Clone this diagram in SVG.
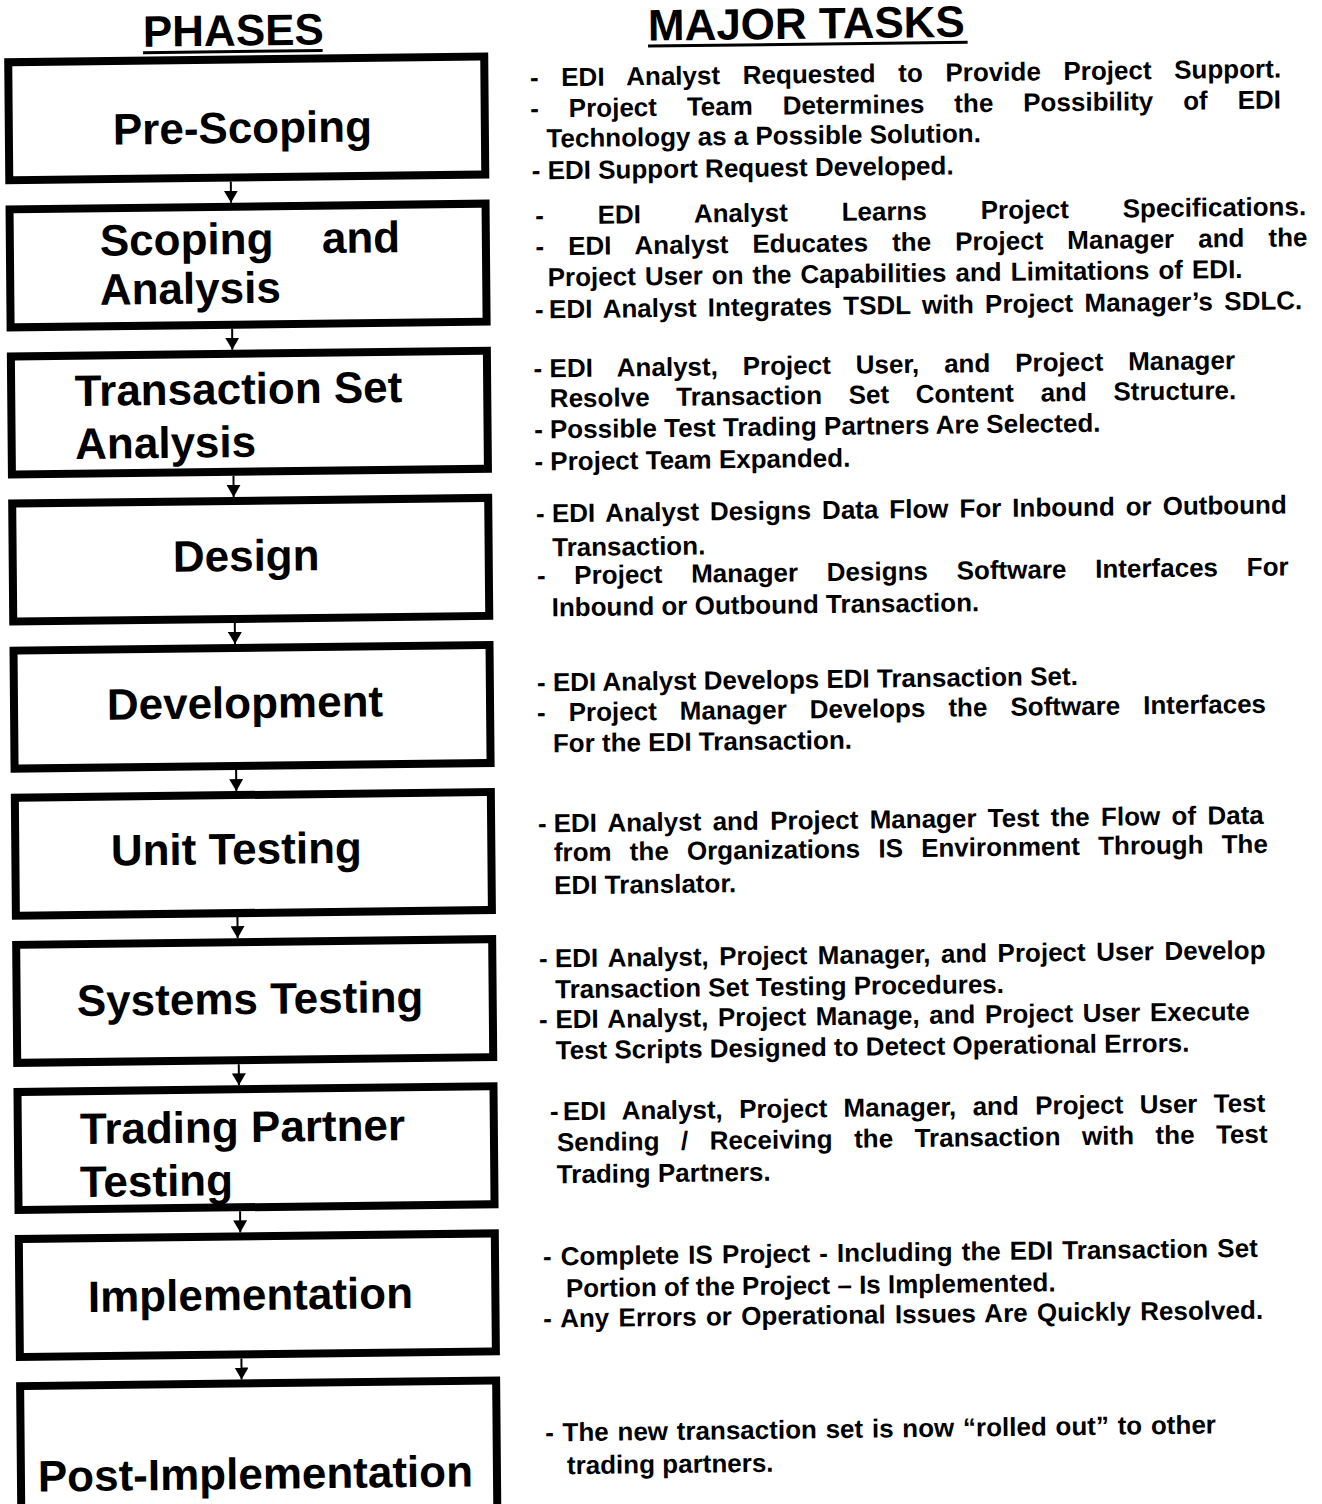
<svg xmlns="http://www.w3.org/2000/svg" width="1322" height="1504" viewBox="0 0 1322 1504">
  <style>
    .box { fill: #fff; stroke: #000; stroke-width: 8; }
    .phase { font-family: "Liberation Sans", Arial, sans-serif; font-weight: bold; font-size: 44px; fill: #000; }
    .head { font-family: "Liberation Sans", Arial, sans-serif; font-weight: bold; font-size: 44px; fill: #000; }
    .rule { stroke: #000; stroke-width: 3; }
    .task { font-family: "Liberation Sans", Arial, sans-serif; font-weight: bold; font-size: 26px; fill: #000; }
    .conn { stroke: #000; stroke-width: 2; fill: none; marker-end: url(#arrow); }
  </style>
  <defs>
    <marker id="arrow" markerUnits="userSpaceOnUse" markerWidth="12" markerHeight="14" viewBox="0 0 12 14" refX="12" refY="7" orient="auto">
      <path d="M0,0 L12,7 L0,14 z" fill="#000"/>
    </marker>
  </defs>
  <rect width="1322" height="1504" fill="#fff"/>

  <!-- whole sheet sits slightly skewed on the page -->
  <g transform="matrix(1 -0.012 0.009 1 -6.77 7.93)">

    <g id="headings">
      <text class="head" x="149.4" y="40.5">PHASES</text>
      <line class="rule" x1="149.4" y1="46.5" x2="329" y2="46.5"/>
      <text class="head" x="654.4" y="40.5">MAJOR TASKS</text>
      <line class="rule" x1="654.4" y1="46" x2="974" y2="46"/>
    </g>

    <g id="connectors">
      <line class="conn" x1="236" y1="176.5" x2="236" y2="197.6"/>
      <line class="conn" x1="236" y1="323.6" x2="236" y2="344.7"/>
      <line class="conn" x1="236" y1="470.7" x2="236" y2="491.8"/>
      <line class="conn" x1="236" y1="617.8" x2="236" y2="638.9"/>
      <line class="conn" x1="236" y1="764.9" x2="236" y2="786.0"/>
      <line class="conn" x1="236" y1="912.0" x2="236" y2="933.1"/>
      <line class="conn" x1="236" y1="1059.1" x2="236" y2="1080.2"/>
      <line class="conn" x1="236" y1="1206.2" x2="236" y2="1227.3"/>
      <line class="conn" x1="236" y1="1353.3" x2="236" y2="1374.4"/>
    </g>

    <g id="phase-pre-scoping">
      <rect class="box" x="14.5" y="54.5" width="476" height="118"/>
      <text class="phase" x="118.5" y="138">Pre-Scoping</text>
    </g>
    <g id="phase-scoping-analysis">
      <rect class="box" x="14.5" y="201.6" width="476" height="118"/>
      <text class="phase" y="249"><tspan x="104.5">Scoping</tspan><tspan x="326.5">and</tspan></text>
      <text class="phase" x="104" y="298">Analysis</text>
    </g>
    <g id="phase-transaction-set-analysis">
      <rect class="box" x="14.5" y="348.7" width="476" height="118"/>
      <text class="phase" x="78" y="399">Transaction Set</text>
      <text class="phase" x="78" y="452">Analysis</text>
    </g>
    <g id="phase-design">
      <rect class="box" x="14.5" y="495.8" width="476" height="118"/>
      <text class="phase" x="174.6" y="566">Design</text>
    </g>
    <g id="phase-development">
      <rect class="box" x="14.5" y="642.9" width="476" height="118"/>
      <text class="phase" x="107.3" y="713">Development</text>
    </g>
    <g id="phase-unit-testing">
      <rect class="box" x="14.5" y="790" width="476" height="118"/>
      <text class="phase" x="110" y="859">Unit Testing</text>
    </g>
    <g id="phase-systems-testing">
      <rect class="box" x="14.5" y="937.1" width="476" height="118"/>
      <text class="phase" x="74.7" y="1009">Systems Testing</text>
    </g>
    <g id="phase-trading-partner-testing">
      <rect class="box" x="14.5" y="1084.2" width="476" height="118"/>
      <text class="phase" x="76.5" y="1137">Trading Partner</text>
      <text class="phase" x="76" y="1190">Testing</text>
    </g>
    <g id="phase-implementation">
      <rect class="box" x="14.5" y="1231.3" width="476" height="118"/>
      <text class="phase" x="83" y="1305">Implementation</text>
    </g>
    <g id="phase-post-implementation">
      <rect class="box" x="14.5" y="1378.4" width="476" height="150"/>
      <text class="phase" x="31.4" y="1484">Post-Implementation</text>
    </g>

    <g id="tasks-pre-scoping" class="task">
      <text x="536" y="85" word-spacing="15.4">- EDI Analyst Requested to Provide Project Support.</text>
      <text x="536" y="116" word-spacing="22.7">- Project Team Determines the Possibility of EDI</text>
      <text x="552" y="146">Technology as a Possible Solution.</text>
      <text x="537" y="178">- EDI Support Request Developed.</text>
    </g>
    <g id="tasks-scoping-analysis" class="task">
      <text x="540" y="223" word-spacing="46.6">- EDI Analyst Learns Project Specifications.</text>
      <text x="540" y="254" word-spacing="16.8">- EDI Analyst Educates the Project Manager and the</text>
      <text x="552" y="285" word-spacing="1.8">Project User on the Capabilities and Limitations of EDI.</text>
      <text y="317"><tspan x="539">-</tspan><tspan x="553" word-spacing="4">EDI Analyst Integrates TSDL with Project Manager’s SDLC.</tspan></text>
    </g>
    <g id="tasks-transaction-set-analysis" class="task">
      <text y="376"><tspan x="537">-</tspan><tspan x="553" word-spacing="17.6">EDI Analyst, Project User, and Project Manager</tspan></text>
      <text x="553" y="406" word-spacing="19.4">Resolve Transaction Set Content and Structure.</text>
      <text x="537" y="437">- Possible Test Trading Partners Are Selected.</text>
      <text x="537" y="469">- Project Team Expanded.</text>
    </g>
    <g id="tasks-design" class="task">
      <text y="521"><tspan x="538">-</tspan><tspan x="554" word-spacing="3.7">EDI Analyst Designs Data Flow For Inbound or Outbound</tspan></text>
      <text x="554" y="555">Transaction.</text>
      <text x="538.5" y="583" word-spacing="21.5">- Project Manager Designs Software Interfaces For</text>
      <text x="553" y="615">Inbound or Outbound Transaction.</text>
    </g>
    <g id="tasks-development" class="task">
      <text x="537.6" y="690">- EDI Analyst Develops EDI Transaction Set.</text>
      <text x="537.3" y="720" word-spacing="15.8">- Project Manager Develops the Software Interfaces</text>
      <text x="553" y="751">For the EDI Transaction.</text>
    </g>
    <g id="tasks-unit-testing" class="task">
      <text y="831"><tspan x="537.3">-</tspan><tspan x="553" word-spacing="4.1">EDI Analyst and Project Manager Test the Flow of Data</tspan></text>
      <text x="553" y="860" word-spacing="10.9">from the Organizations IS Environment Through The</text>
      <text x="553" y="893">EDI Translator.</text>
    </g>
    <g id="tasks-systems-testing" class="task">
      <text y="966"><tspan x="537">-</tspan><tspan x="553" word-spacing="3.2">EDI Analyst, Project Manager, and Project User Develop</tspan></text>
      <text x="553" y="997">Transaction Set Testing Procedures.</text>
      <text y="1027"><tspan x="536.5">-</tspan><tspan x="553" word-spacing="2.3">EDI Analyst, Project Manage, and Project User Execute</tspan></text>
      <text x="553" y="1058">Test Scripts Designed to Detect Operational Errors.</text>
    </g>
    <g id="tasks-trading-partner-testing" class="task">
      <text y="1119"><tspan x="546.7">-</tspan><tspan x="559.7" word-spacing="9.1">EDI Analyst, Project Manager, and Project User Test</tspan></text>
      <text x="553.4" y="1150" word-spacing="14.3">Sending / Receiving the Transaction with the Test</text>
      <text x="553" y="1182">Trading Partners.</text>
    </g>
    <g id="tasks-implementation" class="task">
      <text x="538.4" y="1264" word-spacing="1.9">- Complete IS Project - Including the EDI Transaction Set</text>
      <text x="561" y="1296">Portion of the Project – Is Implemented.</text>
      <text x="538" y="1326" word-spacing="2.1">- Any Errors or Operational Issues Are Quickly Resolved.</text>
    </g>
    <g id="tasks-post-implementation" class="task">
      <text x="539" y="1440" word-spacing="1.5">- The new transaction set is now “rolled out” to other</text>
      <text x="560.5" y="1473">trading partners.</text>
    </g>
  </g>
</svg>
